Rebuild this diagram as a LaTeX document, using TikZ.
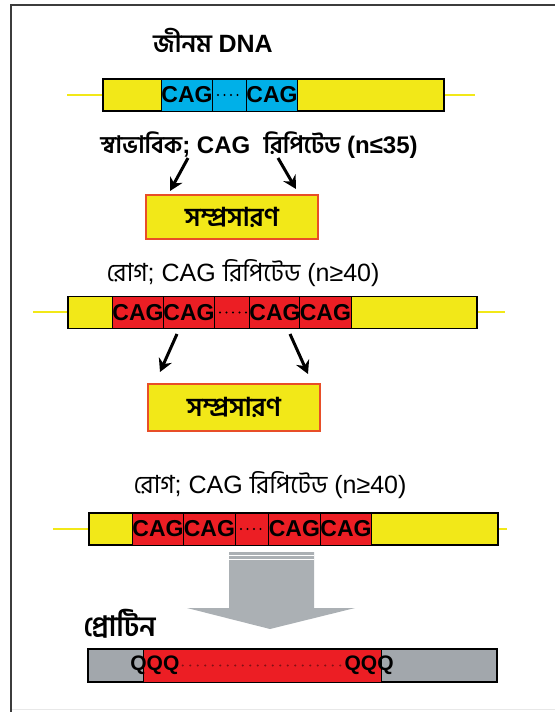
\documentclass[tikz,border=0pt]{standalone}
\usepackage{fontspec}
\usepackage{tikz}
\usetikzlibrary{arrows.meta}
\setmainfont{Liberation Sans}
\newfontfamily\bn[Script=Bengali]{Hind Siliguri}

\definecolor{geneyellow}{RGB}{242,232,24}
\definecolor{repblue}{RGB}{0,176,232}
\definecolor{repred}{RGB}{236,30,36}
\definecolor{protgray}{RGB}{162,167,172}
\definecolor{boxedge}{RGB}{232,78,40}
\definecolor{framegray}{RGB}{60,60,60}

\tikzset{
	strand/.style={geneyellow, line width=2.4pt},
	gene/.style={draw, fill=#1, line width=1.4pt, minimum height=32, inner sep=0},
	gene/.default=geneyellow,
	cell/.style={draw, fill=#1, line width=0.8pt, minimum height=32, inner sep=0,
		anchor=west, font=\fontsize{23}{23}\selectfont\bfseries},
	rptdots/.style={line width=2.4pt, line cap=round, dash pattern=on 0pt off 6.5pt},
	growbox/.style={draw=boxedge, fill=geneyellow, line width=1.4pt, minimum width=172,
		inner sep=0, font=\fontsize{26}{26}\selectfont\bfseries\bn},
	pointer/.style={-{Stealth[length=13pt, width=14pt]}, line width=3pt},
	lbl/.style={font=\fontsize{25}{25}\selectfont},
}

\begin{document}
\begin{tikzpicture}[x=1pt, y=-1pt]
	\useasboundingbox (0,0) rectangle (555,712);
	\draw[framegray!12, line width=1pt] (11,709) -- (555,709);
	\draw[framegray, line width=2pt] (11,712) -- (11,5) -- (555,5);

	% normal gene
	\node[lbl, font=\fontsize{25}{25}\selectfont\bfseries] (title) at (213,40) {{\bn জীনম} DNA};
	\draw[strand] (67,95) -- (475,95);
	\node[gene, minimum width=341] (dna1) at (273.5,95) {};
	\foreach \x/\w/\t [count=\i] in {161/51/CAG, 212/34/, 246/51/CAG}
		\node[cell=repblue, minimum width=\w] (a\i) at (\x,95) {\t};
	\draw[rptdots] ([xshift=6]a2.west) -- ([xshift=-3]a2.east);
	\node[lbl, font=\fontsize{24}{24}\selectfont\bfseries] (normal) at (259,145)
		{{\bn স্বাভাবিক}; CAG~ {\bn রিপিটেড} (n≤35)};
	\coordinate (n1) at (188,158);
	\coordinate (n1e) at (170,191);
	\coordinate (n2) at (278,158);
	\coordinate (n2e) at (296,189);
	\node[growbox, minimum height=44] (grow1) at (232,217) {সম্প্রসারণ};
	\draw[pointer] (n1) -- (n1e);
	\draw[pointer] (n2) -- (n2e);

	% expanded repeat
	\node[lbl] (sick1) at (243,273) {{\bn রোগ}; CAG {\bn রিপিটেড} (n≥40)};
	\draw[strand] (33,312) -- (505,312);
	\node[gene, minimum width=409] (dna2) at (272.5,312.5) {};
	\foreach \x/\w/\t [count=\i] in {112/51/CAG, 163/51/CAG, 214/35/, 249/50/CAG, 299/52/CAG}
		\node[cell=repred, minimum width=\w] (b\i) at (\x,312.5) {\t};
	\draw[rptdots] ([xshift=6]b3.west) -- ([xshift=-3]b3.east);
	\coordinate (m1) at (177,334);
	\coordinate (m1e) at (160,372);
	\coordinate (m2) at (290,334);
	\coordinate (m2e) at (308,374);
	\node[growbox, minimum height=47] (grow2) at (234,407.5) {সম্প্রসারণ};
	\draw[pointer] (m1) -- (m1e);
	\draw[pointer] (m2) -- (m2e);

	% translation into protein
	\node[lbl] (sick2) at (270,485) {{\bn রোগ}; CAG {\bn রিপিটেড} (n≥40)};
	\draw[strand] (53,529) -- (507,529);
	\node[gene, minimum width=409] (dna3) at (293.5,529) {};
	\foreach \x/\w/\t [count=\i] in {132/51/CAG, 183/52/CAG, 235/33/, 268/52/CAG, 320/51/CAG}
		\node[cell=repred, minimum width=\w] (c\i) at (\x,529) {\t};
	\draw[rptdots] ([xshift=6]c3.west) -- ([xshift=-3]c3.east);

	\fill[protgray!90] (229,552) -- (314,552) -- (314,608) -- (355,608) -- (270,629)
		-- (187,608) -- (229,608) -- cycle;
	\draw[white, line width=1pt] (229,555.5) -- (314,555.5) (229,559.5) -- (314,559.5);

	\node[lbl, anchor=west, font=\fontsize{28}{28}\selectfont\bfseries\bn] (prot) at (80,624) {প্রোটিন};
	\node[gene=protgray, minimum width=409, minimum height=33] (pchain) at (292.5,665.5) {};
	\node[draw, fill=repred, line width=0.8pt, minimum width=238, minimum height=33, inner sep=0]
		(polyq) at (262,665.5) {};
	\node[cell=none, draw=none, fill=none, font=\fontsize{21}{21}\selectfont\bfseries] (q1) at (130,665.5) {QQQ};
	\node[cell=none, draw=none, fill=none, anchor=east, font=\fontsize{21}{21}\selectfont\bfseries] (q2) at (394,665.5) {QQQ};
	\draw[rptdots, repred!55!black, line width=2.2pt, dash pattern=on 0pt off 7.5pt] ([xshift=3]q1.east) -- ([xshift=-3]q2.west);
\end{tikzpicture}
\end{document}
